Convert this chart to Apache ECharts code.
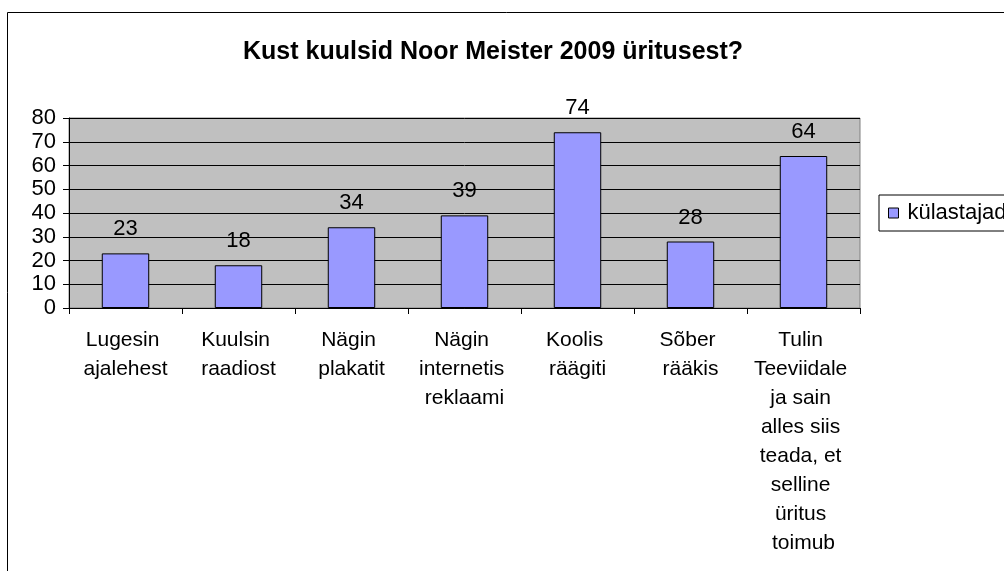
<!DOCTYPE html>
<html lang="et">
<head>
    <meta charset="UTF-8">
    <title>Kust kuulsid Noor Meister 2009 üritusest?</title>
    <script src="https://cdn.jsdelivr.net/npm/echarts@6/dist/echarts.min.js"></script>
    <style>
        html, body { margin: 0; padding: 0; background: #fff; }
        #main { width: 1004px; height: 571px; }
    </style>
</head>
<body>
<div id="main"></div>
<script type="text/javascript">
    // andmed
    var categories = ['Lugesin ajalehest', 'Kuulsin raadiost', 'Nägin plakatit', 'Nägin internetis reklaami',
        'Koolis räägiti', 'Sõber rääkis', 'Tulin Teeviidale ja sain alles siis teada, et selline üritus toimub'];
    var visitors = [23, 18, 34, 39, 74, 28, 64];
    var seriesName = 'külastajad';
    var yTicks = [0, 80, 10]; // min, max, samm

    var font = "'Liberation Sans', Arial, sans-serif";
    var myChart = echarts.init(document.getElementById('main'));

    var option = {
        animation: false,
        textStyle: { fontFamily: font },
        title: {
            text: 'Kust kuulsid Noor Meister 2009 üritusest?',
            left: 243,
            top: 40,
            padding: 0,
            textStyle: { fontFamily: font, fontSize: 25, fontWeight: 'bold', color: '#000' }
        },
        graphic: [{
            type: 'rect',
            shape: { x: 7.5, y: 12.5, width: 1200, height: 800 },
            style: { fill: 'none', stroke: '#000', lineWidth: 1 },
            silent: true
        }],
        legend: {
            data: [seriesName],
            left: 879,
            top: 195,
            orient: 'vertical',
            padding: [7, 40, 7, 9],
            borderColor: '#000',
            borderWidth: 1,
            backgroundColor: '#fff',
            icon: 'rect',
            itemWidth: 10,
            itemHeight: 10,
            itemStyle: { borderColor: '#000', borderWidth: 1 },
            textStyle: { fontFamily: font, fontSize: 22, color: '#000', padding: [0, 0, 0, 4] }
        },
        grid: {
            left: 69,
            top: 118,
            right: 144,
            bottom: 263,
            show: true,
            backgroundColor: '#c0c0c0',
            borderColor: '#808080',
            borderWidth: 1
        },
        xAxis: {
            type: 'category',
            data: categories,
            axisLine: { lineStyle: { color: '#000', width: 1 } },
            axisTick: { show: true, length: 6, lineStyle: { color: '#000' } },
            axisLabel: {
                interval: 0,
                margin: 18,
                fontFamily: font,
                fontSize: 21,
                lineHeight: 29,
                color: '#000',
                width: 106,
                overflow: 'break',
                align: 'center'
            }
        },
        yAxis: {
            type: 'value',
            min: yTicks[0],
            max: yTicks[1],
            interval: yTicks[2],
            axisLine: { show: true, lineStyle: { color: '#000', width: 1 } },
            axisTick: { show: true, length: 6, lineStyle: { color: '#000' } },
            axisLabel: { margin: 13, fontFamily: font, fontSize: 22, color: '#000' },
            splitLine: { show: true, lineStyle: { color: '#000', width: 1 } }
        },
        series: [{
            name: seriesName,
            type: 'bar',
            data: visitors,
            barCategoryGap: '58%',
            itemStyle: { color: '#9999ff', borderColor: '#000', borderWidth: 1 },
            label: {
                show: true,
                position: 'top',
                distance: 13,
                fontFamily: font,
                fontSize: 22,
                color: '#000'
            }
        }]
    };
    myChart.setOption(option);
</script>
</body>
</html>
